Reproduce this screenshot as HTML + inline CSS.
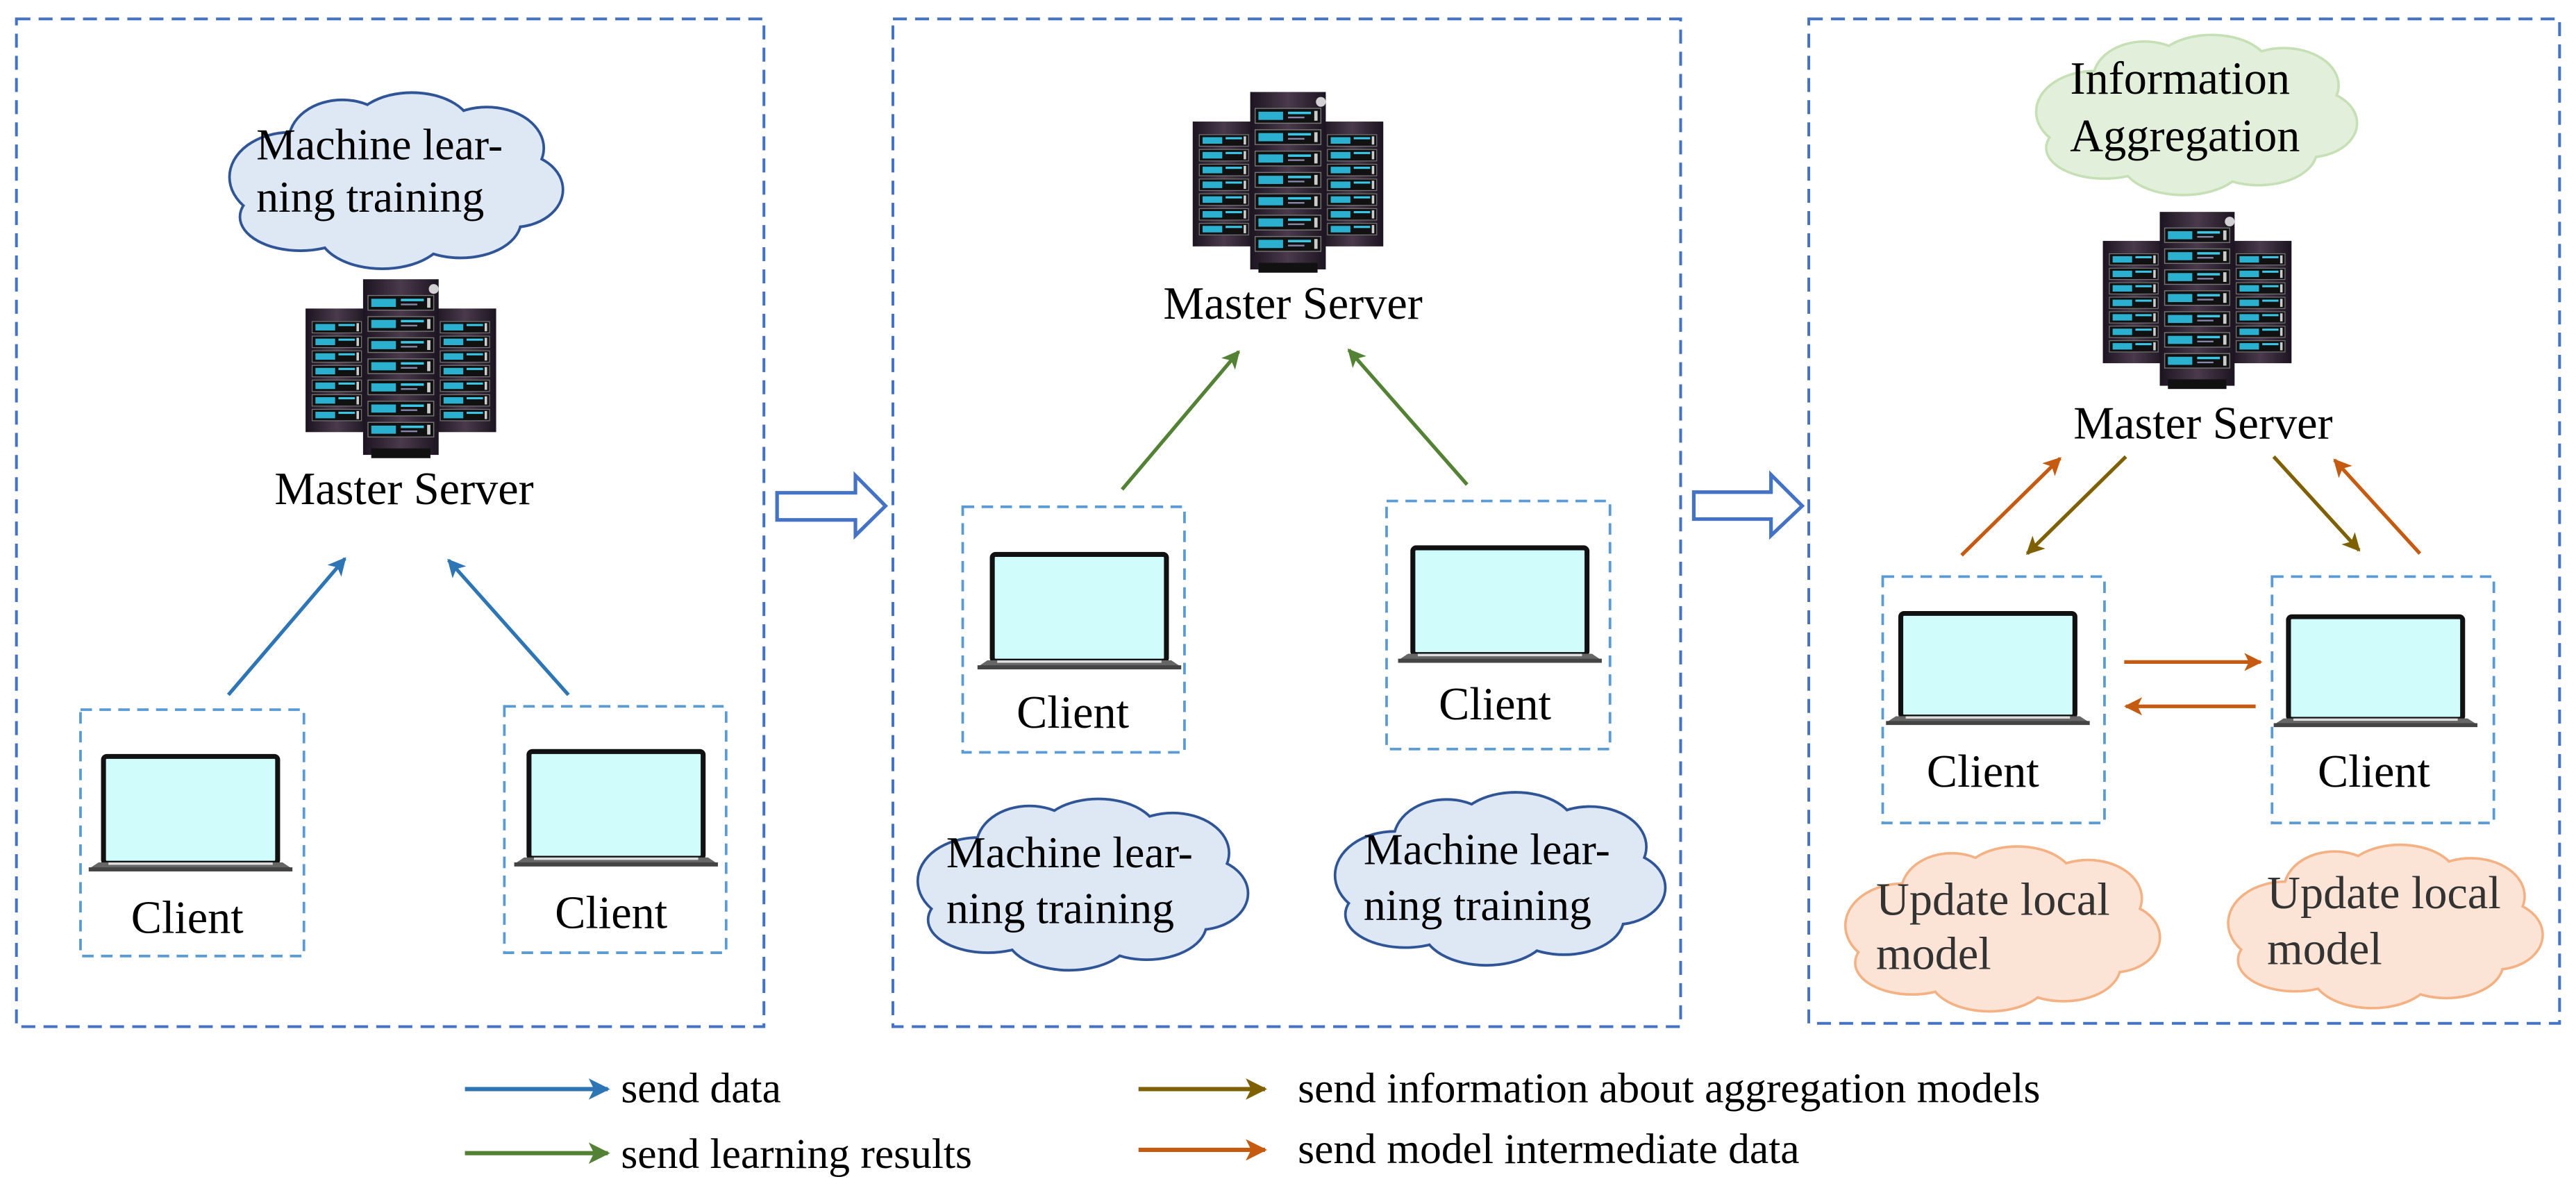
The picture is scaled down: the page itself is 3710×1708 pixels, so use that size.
<!DOCTYPE html>
<html><head><meta charset="utf-8"><style>
html,body{margin:0;padding:0;background:#fff;}
svg{display:block;}
svg text{font-family:"Liberation Serif","Times New Roman",serif !important;fill:#000;}
</style></head><body>
<svg width="3710" height="1708" viewBox="0 0 1568 722" preserveAspectRatio="none" xmlns="http://www.w3.org/2000/svg" font-family="'Liberation Serif', serif">
<defs>
  <marker id="mb" viewBox="0 0 10 10" refX="9" refY="5" markerWidth="5" markerHeight="5" orient="auto" markerUnits="strokeWidth"><path d="M0,0 L10,5 L0,10 L2.5,5 z" fill="#2e75b6"/></marker>
  <marker id="mg" viewBox="0 0 10 10" refX="9" refY="5" markerWidth="5" markerHeight="5" orient="auto" markerUnits="strokeWidth"><path d="M0,0 L10,5 L0,10 L2.5,5 z" fill="#548235"/></marker>
  <marker id="mo" viewBox="0 0 10 10" refX="9" refY="5" markerWidth="5" markerHeight="5" orient="auto" markerUnits="strokeWidth"><path d="M0,0 L10,5 L0,10 L2.5,5 z" fill="#c55a11"/></marker>
  <marker id="ml" viewBox="0 0 10 10" refX="9" refY="5" markerWidth="5" markerHeight="5" orient="auto" markerUnits="strokeWidth"><path d="M0,0 L10,5 L0,10 L2.5,5 z" fill="#7f6000"/></marker>
  <linearGradient id="tw" x1="0" x2="1"><stop offset="0" stop-color="#1c1420"/><stop offset="0.5" stop-color="#4a3a4c"/><stop offset="1" stop-color="#1c1420"/></linearGradient>
  <g id="row">
    <rect x="0" y="0" width="40" height="9" fill="#111" stroke="#777" stroke-width="0.6"/>
    <rect x="2" y="2" width="15" height="5" fill="#2bb0d0"/>
    <rect x="20" y="2" width="14" height="1.5" fill="#3ac8e8"/>
    <rect x="20" y="5" width="10" height="1" fill="#88a"/>
    <rect x="36" y="1.5" width="2" height="6" fill="#ccc"/>
  </g>
  <g id="rows">
    <rect x="0" y="0" width="30" height="7" fill="#111" stroke="#777" stroke-width="0.5"/>
    <rect x="2" y="1.5" width="12" height="4" fill="#2bb0d0"/>
    <rect x="16" y="1.5" width="10" height="1.3" fill="#3ac8e8"/>
    <rect x="27" y="1" width="1.5" height="5" fill="#ccc"/>
  </g>
  <g id="server">
    <rect x="0" y="18" width="38" height="76" fill="url(#tw)"/>
    <rect x="78" y="18" width="38" height="76" fill="url(#tw)"/>
    <use href="#rows" x="4" y="26"/><use href="#rows" x="4" y="35"/><use href="#rows" x="4" y="44"/><use href="#rows" x="4" y="53"/><use href="#rows" x="4" y="62"/><use href="#rows" x="4" y="71"/><use href="#rows" x="4" y="80"/>
    <use href="#rows" x="82" y="26"/><use href="#rows" x="82" y="35"/><use href="#rows" x="82" y="44"/><use href="#rows" x="82" y="53"/><use href="#rows" x="82" y="62"/><use href="#rows" x="82" y="71"/><use href="#rows" x="82" y="80"/>
    <rect x="35" y="0" width="46" height="108" fill="url(#tw)"/>
    <rect x="40" y="104" width="36" height="6" fill="#111"/>
    <use href="#row" x="38" y="10"/><use href="#row" x="38" y="23"/><use href="#row" x="38" y="36"/><use href="#row" x="38" y="49"/><use href="#row" x="38" y="62"/><use href="#row" x="38" y="75"/><use href="#row" x="38" y="88"/>
    <circle cx="78" cy="6" r="3" fill="#fff" opacity="0.8"/>
  </g>
  <g id="laptop">
    <rect x="9" y="1.5" width="106" height="65" rx="2" fill="#d0fcfc" stroke="#111" stroke-width="3"/>
    <path d="M0,70 L6,66 L118,66 L124,70 Z" fill="#666"/>
    <rect x="0" y="69" width="124" height="2.5" fill="#444"/>
    <rect x="12" y="66" width="100" height="1.5" fill="#ddd"/>
  </g>
  <g id="cloudshape">
    <ellipse cx="42" cy="48" rx="34" ry="24"/>
    <ellipse cx="72" cy="28" rx="30" ry="22"/>
    <ellipse cx="112" cy="22" rx="34" ry="20"/>
    <ellipse cx="155" cy="32" rx="32" ry="22"/>
    <ellipse cx="170" cy="55" rx="28" ry="20"/>
    <ellipse cx="140" cy="72" rx="34" ry="20"/>
    <ellipse cx="95" cy="78" rx="36" ry="20"/>
    <ellipse cx="48" cy="70" rx="34" ry="18"/>
    <ellipse cx="100" cy="50" rx="70" ry="28"/>
  </g>
</defs>

<g fill="none" stroke="#4472c4" stroke-width="1.7" stroke-dasharray="8.5 5">
  <rect x="10" y="11.5" width="455" height="613.5"/>
  <rect x="543.5" y="11.5" width="479.5" height="613.5"/>
  <rect x="1101" y="11.5" width="457" height="611.5"/>
</g>
<g fill="#fff" stroke="#4472c4" stroke-width="2.2">
  <path d="M473,300 L520.7,300 L520.7,289.5 L539,308 L520.7,326 L520.7,316.5 L473,316.5 Z"/>
  <path d="M1031,299.6 L1078,299.6 L1078,289 L1097,308 L1078,326 L1078,316 L1031,316 Z"/>
</g>

<!-- Panel 1 -->
<g transform="translate(132,55) scale(1.06,1.1)">
  <g fill="#dde8f4" stroke="#2f5597" stroke-width="3"><use href="#cloudshape"/></g>
  <g fill="#dde8f4"><use href="#cloudshape"/></g>
</g>
<text x="156" y="97" font-size="27" font-family="'Liberation Serif', serif">Machine lear-</text>
<text x="156" y="129" font-size="27" font-family="'Liberation Serif', serif">ning training</text>
<use href="#server" transform="translate(186,170) scale(1,0.99)"/>
<text x="246" y="307" font-size="28" text-anchor="middle" font-family="'Liberation Serif', serif">Master Server</text>
<g stroke="#2e75b6" stroke-width="2.2" fill="none">
  <line x1="139" y1="423" x2="210" y2="340" marker-end="url(#mb)"/>
  <line x1="346" y1="423" x2="273" y2="341" marker-end="url(#mb)"/>
</g>
<g fill="none" stroke="#5b9bd5" stroke-width="1.6" stroke-dasharray="7 4.5">
  <rect x="49" y="432" width="136" height="150"/>
  <rect x="307" y="430" width="135" height="150"/>
</g>
<use href="#laptop" transform="translate(54,459)"/>
<use href="#laptop" transform="translate(313,456)"/>
<text x="114" y="568" font-size="28" text-anchor="middle" font-family="'Liberation Serif', serif">Client</text>
<text x="372" y="565" font-size="28" text-anchor="middle" font-family="'Liberation Serif', serif">Client</text>

<!-- Panel 2 -->
<use href="#server" transform="translate(726,56)"/>
<text x="787" y="194" font-size="28" text-anchor="middle" font-family="'Liberation Serif', serif">Master Server</text>
<g stroke="#548235" stroke-width="2.2" fill="none">
  <line x1="683" y1="298" x2="754" y2="214" marker-end="url(#mg)"/>
  <line x1="893" y1="295" x2="821" y2="213" marker-end="url(#mg)"/>
</g>
<g fill="none" stroke="#5b9bd5" stroke-width="1.6" stroke-dasharray="7 4.5">
  <rect x="586" y="308.5" width="135" height="149.5"/>
  <rect x="844" y="305" width="136" height="151"/>
</g>
<use href="#laptop" transform="translate(595,336)"/>
<use href="#laptop" transform="translate(851,332)"/>
<text x="653" y="443" font-size="28" text-anchor="middle" font-family="'Liberation Serif', serif">Client</text>
<text x="910" y="438" font-size="28" text-anchor="middle" font-family="'Liberation Serif', serif">Client</text>
<g transform="translate(551,485) scale(1.05,1.07)">
  <g fill="#dde8f4" stroke="#2f5597" stroke-width="3"><use href="#cloudshape"/></g>
  <g fill="#dde8f4"><use href="#cloudshape"/></g>
</g>
<g transform="translate(805,481) scale(1.05,1.08)">
  <g fill="#dde8f4" stroke="#2f5597" stroke-width="3"><use href="#cloudshape"/></g>
  <g fill="#dde8f4"><use href="#cloudshape"/></g>
</g>
<text x="576" y="528" font-size="27" font-family="'Liberation Serif', serif">Machine lear-</text>
<text x="576" y="562" font-size="27" font-family="'Liberation Serif', serif">ning training</text>
<text x="830" y="526" font-size="27" font-family="'Liberation Serif', serif">Machine lear-</text>
<text x="830" y="560" font-size="27" font-family="'Liberation Serif', serif">ning training</text>

<!-- Panel 3 -->
<g transform="translate(1232,20) scale(1.02,1.0)">
  <g fill="#e2efda" stroke="#c5e0b4" stroke-width="3"><use href="#cloudshape"/></g>
  <g fill="#e2efda"><use href="#cloudshape"/></g>
</g>
<text x="1327" y="57" font-size="28" text-anchor="middle" font-family="'Liberation Serif', serif">Information</text>
<text x="1330" y="92" font-size="28" text-anchor="middle" font-family="'Liberation Serif', serif">Aggregation</text>
<use href="#server" transform="translate(1280,129) scale(0.99,0.98)"/>
<text x="1341" y="267" font-size="28" text-anchor="middle" font-family="'Liberation Serif', serif">Master Server</text>
<g stroke-width="2.2" fill="none">
  <line x1="1194" y1="338" x2="1254" y2="279" stroke="#c55a11" marker-end="url(#mo)"/>
  <line x1="1294" y1="278" x2="1234" y2="337" stroke="#7f6000" marker-end="url(#ml)"/>
  <line x1="1384" y1="278" x2="1436" y2="335" stroke="#7f6000" marker-end="url(#ml)"/>
  <line x1="1473" y1="337" x2="1421" y2="280" stroke="#c55a11" marker-end="url(#mo)"/>
  <line x1="1293" y1="403" x2="1376" y2="403" stroke="#c55a11" marker-end="url(#mo)"/>
  <line x1="1373" y1="430" x2="1294" y2="430" stroke="#c55a11" marker-end="url(#mo)"/>
</g>
<g fill="none" stroke="#5b9bd5" stroke-width="1.6" stroke-dasharray="7 4.5">
  <rect x="1146" y="351" width="135" height="150"/>
  <rect x="1383" y="351" width="135" height="150"/>
</g>
<use href="#laptop" transform="translate(1148,372) scale(1,0.97)"/>
<use href="#laptop" transform="translate(1384,374) scale(1,0.96)"/>
<text x="1207" y="479" font-size="28" text-anchor="middle" font-family="'Liberation Serif', serif">Client</text>
<text x="1445" y="479" font-size="28" text-anchor="middle" font-family="'Liberation Serif', serif">Client</text>
<g transform="translate(1116,514) scale(1.0,1.03)">
  <g fill="#fbe3d6" stroke="#f4b183" stroke-width="3"><use href="#cloudshape"/></g>
  <g fill="#fbe3d6"><use href="#cloudshape"/></g>
</g>
<g transform="translate(1349,513) scale(1.0,1.02)">
  <g fill="#fbe3d6" stroke="#f4b183" stroke-width="3"><use href="#cloudshape"/></g>
  <g fill="#fbe3d6"><use href="#cloudshape"/></g>
</g>
<text x="1142" y="557" font-size="28" style="fill:#333" font-family="'Liberation Serif', serif">Update local</text>
<text x="1142" y="590" font-size="28" style="fill:#333" font-family="'Liberation Serif', serif">model</text>
<text x="1380" y="553" font-size="28" style="fill:#333" font-family="'Liberation Serif', serif">Update local</text>
<text x="1380" y="587" font-size="28" style="fill:#333" font-family="'Liberation Serif', serif">model</text>

<!-- legend -->
<g stroke-width="2.6" fill="none">
  <line x1="283" y1="663" x2="370" y2="663" stroke="#2e75b6" marker-end="url(#mb)"/>
  <line x1="283" y1="702" x2="370" y2="702" stroke="#548235" marker-end="url(#mg)"/>
  <line x1="693" y1="663" x2="770" y2="663" stroke="#7f6000" marker-end="url(#ml)"/>
  <line x1="693" y1="700" x2="770" y2="700" stroke="#c55a11" marker-end="url(#mo)"/>
</g>
<text x="378" y="671" font-size="26" font-family="'Liberation Serif', serif">send data</text>
<text x="378" y="711" font-size="26" font-family="'Liberation Serif', serif">send learning results</text>
<text x="790" y="671" font-size="26" font-family="'Liberation Serif', serif">send information about aggregation models</text>
<text x="790" y="708" font-size="26" font-family="'Liberation Serif', serif">send model intermediate data</text>
</svg>
</body></html>
